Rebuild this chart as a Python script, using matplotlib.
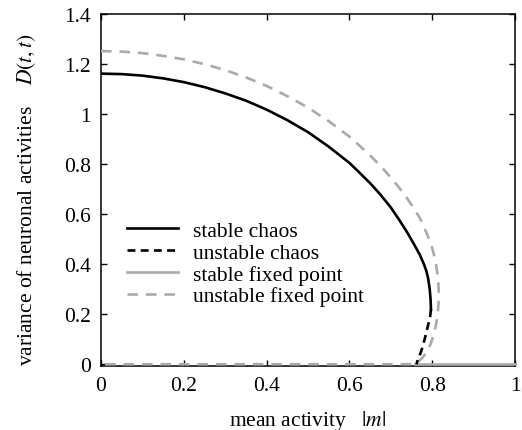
import matplotlib
matplotlib.use('Agg')
import matplotlib.pyplot as plt
from matplotlib.ticker import FuncFormatter

plt.rcParams['font.family'] = ['Liberation Serif', 'DejaVu Serif']
plt.rcParams['mathtext.fontset'] = 'stix'

# stable chaos (solid black)
chaos_m = [0, 0.05, 0.1, 0.15, 0.2, 0.25, 0.3, 0.35, 0.4, 0.45, 0.5, 0.55, 0.6, 0.625,
           0.65, 0.675, 0.7, 0.72, 0.74, 0.755, 0.77, 0.78, 0.786, 0.79, 0.794, 0.796, 0.797]
chaos_D = [1.162, 1.160, 1.154, 1.143, 1.128, 1.108, 1.083, 1.054, 1.018, 0.976, 0.928,
           0.870, 0.805, 0.765, 0.724, 0.678, 0.627, 0.578, 0.526, 0.483, 0.438, 0.400,
           0.372, 0.345, 0.300, 0.260, 0.220]

# unstable chaos (dashed black)
uchaos_m = [0.797, 0.795, 0.790, 0.784, 0.778, 0.772, 0.766, 0.762]
uchaos_D = [0.220, 0.190, 0.156, 0.115, 0.076, 0.045, 0.023, 0.0]

# stable fixed point (solid gray)
fp_m = [0.758, 1.0]
fp_D = [0.0, 0.0]

# unstable fixed point (dashed gray)
ufp_m = [0, 0.05, 0.1, 0.15, 0.2, 0.25, 0.3, 0.35, 0.4, 0.45, 0.5, 0.55, 0.6, 0.625,
         0.65, 0.675, 0.7, 0.72, 0.74, 0.755, 0.77, 0.78, 0.79, 0.80, 0.807, 0.812,
         0.815, 0.816, 0.815, 0.813, 0.809, 0.803, 0.796, 0.787, 0.776, 0.766, 0.758, 0.0]
ufp_D = [1.252, 1.250, 1.244, 1.233, 1.219, 1.200, 1.176, 1.147, 1.113, 1.072, 1.026,
         0.972, 0.910, 0.873, 0.835, 0.793, 0.747, 0.706, 0.662, 0.625, 0.585, 0.550,
         0.510, 0.465, 0.420, 0.370, 0.320, 0.276, 0.235, 0.196, 0.155, 0.116, 0.080,
         0.050, 0.025, 0.010, 0.0, 0.0]

xticks = [0, 0.2, 0.4, 0.6, 0.8, 1]
yticks = [0, 0.2, 0.4, 0.6, 0.8, 1, 1.2, 1.4]

gray = '#aaaaaa'
fs = 15.5

fig = plt.figure(figsize=(5.22, 4.31), dpi=100)
ax = fig.add_axes([0.1935, 0.1485, 0.7931, 0.8165])

ax.plot(chaos_m, chaos_D, color='black', lw=1.9, label='stable chaos', zorder=4)
ax.plot(uchaos_m, uchaos_D, color='black', lw=1.9, ls=(0, (3, 2)), label='unstable chaos', zorder=4)
ax.plot(fp_m, fp_D, color=gray, lw=1.9, label='stable fixed point', zorder=3, clip_on=False)
ax.plot(ufp_m, ufp_D, color=gray, lw=1.9, ls=(0, (4, 3)), label='unstable fixed point', zorder=3, clip_on=False)

ax.set_xlim(0, 1)
ax.set_ylim(-0.007, 1.4)
ax.set_xticks(xticks)
ax.set_yticks(yticks)
fmt = FuncFormatter(lambda v, p: '%g' % v)
ax.xaxis.set_major_formatter(fmt)
ax.yaxis.set_major_formatter(fmt)
ax.tick_params(direction='in', top=True, right=True, length=4, width=1, labelsize=fs, pad=7)
for s in ax.spines.values():
    s.set_linewidth(1.1)

ax.set_xlabel(r'mean activity   $|m|$', fontsize=fs)
ax.set_ylabel(r'variance of neuronal activities    $D(t,t)$', fontsize=fs)
ax.xaxis.set_label_coords(0.5, -0.118)
ax.yaxis.set_label_coords(-0.153, 0.475)

ax.legend(loc='center left', bbox_to_anchor=(0.063, 0.291), frameon=False, fontsize=fs,
          handlelength=2.37, handletextpad=0.7, labelspacing=0.08, borderpad=0, borderaxespad=0)

fig.savefig('out.png', dpi=100)
